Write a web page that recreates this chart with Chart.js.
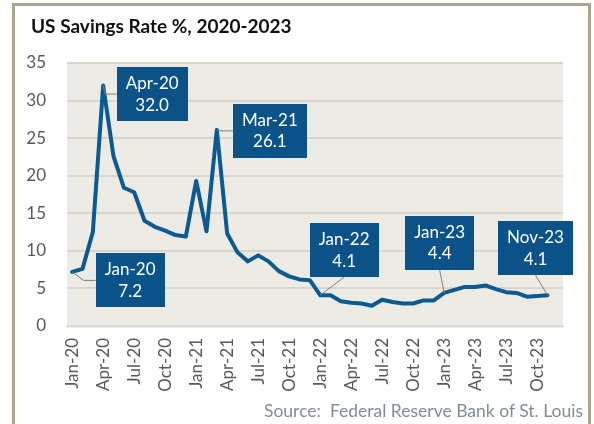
<!DOCTYPE html>
<html>
<head>
<meta charset="utf-8">
<script src="https://cdn.jsdelivr.net/npm/chart.js@4.4.1/dist/chart.umd.min.js"></script>
<style>
  html, body { margin: 0; padding: 0; background: #ffffff; }
  #wrap { position: relative; width: 594px; height: 424px; overflow: hidden; background: #ffffff; }
  #frame { position: absolute; left: 12px; top: 3px; width: 573px; height: 440px; border: 3px solid #ABA58F; box-sizing: content-box; }
  #title { position: absolute; left: 31px; top: 14px; font-family: Lato, "Open Sans", sans-serif; font-weight: bold; font-size: 19px; color: #111111; white-space: nowrap; }
  #source { position: absolute; right: 11px; top: 400px; font-family: Lato, "Open Sans", sans-serif; font-size: 17.5px; color: #7F8C9A; white-space: pre; }
  canvas { position: absolute; left: 0; top: 0; }
</style>
</head>
<body>
<div id="wrap">
  <div id="frame"></div>
  <canvas id="c" width="594" height="424"></canvas>
  <div id="title">US Savings Rate %, 2020-2023</div>
  <div id="source">Source:  Federal Reserve Bank of St. Louis</div>
</div>
<script>
// ---- data ----
const months = [
  "Jan-20","Feb-20","Mar-20","Apr-20","May-20","Jun-20","Jul-20","Aug-20","Sep-20","Oct-20","Nov-20","Dec-20",
  "Jan-21","Feb-21","Mar-21","Apr-21","May-21","Jun-21","Jul-21","Aug-21","Sep-21","Oct-21","Nov-21","Dec-21",
  "Jan-22","Feb-22","Mar-22","Apr-22","May-22","Jun-22","Jul-22","Aug-22","Sep-22","Oct-22","Nov-22","Dec-22",
  "Jan-23","Feb-23","Mar-23","Apr-23","May-23","Jun-23","Jul-23","Aug-23","Sep-23","Oct-23","Nov-23","Dec-23"
];
const savingsRate = [
  7.2, 7.6, 12.5, 32.0, 22.6, 18.4, 17.8, 14.0, 13.2, 12.7, 12.1, 11.9,
  19.3, 12.6, 26.1, 12.3, 9.8, 8.6, 9.4, 8.6, 7.3, 6.6, 6.2, 6.1,
  4.1, 4.1, 3.3, 3.1, 3.0, 2.7, 3.5, 3.2, 3.0, 3.0, 3.4, 3.4,
  4.4, 4.8, 5.2, 5.2, 5.4, 4.9, 4.5, 4.4, 3.9, 4.0, 4.1, null
];
const shownTickMonths = ["Jan-20","Apr-20","Jul-20","Oct-20","Jan-21","Apr-21","Jul-21","Oct-21","Jan-22","Apr-22","Jul-22","Oct-22","Jan-23","Apr-23","Jul-23","Oct-23"];
const yTickMax = 35;
const yTickStep = 5;
const calloutMonths = ["Jan-20","Apr-20","Mar-21","Jan-22","Jan-23","Nov-23"];

// callout placement (pixel offsets of box centre from the point) and leader style
const calloutLayout = {
  "Jan-20": { dx: 58, dy: 8.5, leader: "left" },
  "Apr-20": { dx: 49, dy: 8.5, leader: "left" },
  "Mar-21": { dx: 53, dy: 1, leader: "left" },
  "Jan-22": { dx: 24, dy: -45, leader: "bottom" },
  "Jan-23": { dx: -4.5, dy: -50, leader: "bottom" },
  "Nov-23": { dx: -12, dy: -47, leader: "bottom" }
};

const FONT = 'Lato, "Open Sans", sans-serif';

const plotBg = {
  id: 'plotBg',
  beforeDraw(chart) {
    const { ctx, chartArea: a } = chart;
    ctx.save();
    ctx.fillStyle = '#EDEBE6';
    ctx.fillRect(a.left, a.top - 1, a.right - a.left, a.bottom - a.top + 3);
    ctx.restore();
  }
};

const callouts = {
  id: 'callouts',
  afterDatasetsDraw(chart) {
    const { ctx } = chart;
    const xs = chart.scales.x, ys = chart.scales.y;
    ctx.save();
    ctx.font = '17px ' + FONT;
    calloutMonths.forEach(m => {
      const i = months.indexOf(m);
      const v = savingsRate[i];
      const px = xs.getPixelForValue(i);
      const py = ys.getPixelForValue(v);
      const lay = calloutLayout[m];
      const l1 = m, l2 = v.toFixed(1);
      const tw = Math.max(ctx.measureText(l1).width, ctx.measureText(l2).width);
      const w = Math.round(tw + 18);
      const h = 54;
      const cx = px + lay.dx, cy = py + lay.dy;
      const left = cx - w / 2, top = cy - h / 2;
      // leader
      ctx.strokeStyle = '#7F7F7F';
      ctx.lineWidth = 1;
      ctx.beginPath();
      if (lay.leader === 'left') {
        const ex = Math.max(px + 2, left - 12);
        ctx.moveTo(left, cy);
        ctx.lineTo(ex, cy);
        ctx.lineTo(px, py);
      } else {
        ctx.moveTo(cx, top + h);
        ctx.lineTo(px, py);
      }
      ctx.stroke();
      // box
      ctx.fillStyle = '#0A5288';
      ctx.fillRect(Math.round(left), Math.round(top), w, h);
      ctx.fillStyle = '#FFFFFF';
      ctx.textAlign = 'center';
      ctx.textBaseline = 'middle';
      ctx.fillText(l1, cx, cy - 10.5);
      ctx.fillText(l2, cx, cy + 11);
    });
    ctx.restore();
  }
};

new Chart(document.getElementById('c'), {
  type: 'line',
  data: {
    labels: months,
    datasets: [{
      data: savingsRate,
      borderColor: '#0C5A92',
      borderWidth: 4,
      pointRadius: 0,
      pointHoverRadius: 0,
      tension: 0,
      borderJoinStyle: 'round',
      borderCapStyle: 'round',
      fill: false
    }]
  },
  options: {
    responsive: false,
    devicePixelRatio: 1,
    animation: false,
    events: [],
    layout: { padding: { left: 0, right: 31, top: 63, bottom: 0 } },
    plugins: { legend: { display: false }, tooltip: { enabled: false }, title: { display: false } },
    scales: {
      x: {
        type: 'category',
        offset: true,
        grid: { display: false, drawTicks: false },
        border: { display: true, color: '#DCDCDC', width: 2 },
        ticks: {
          autoSkip: false,
          maxRotation: 90,
          minRotation: 90,
          padding: 12,
          color: '#595959',
          font: { family: FONT, size: 17 },
          callback(value) {
            const lab = this.getLabelForValue(value);
            return shownTickMonths.includes(lab) ? lab : '';
          }
        },
        afterFit(scale) { scale.height = 98; }
      },
      y: {
        min: 0,
        max: yTickMax,
        grid: { color: '#D9D5CB', lineWidth: 2, drawTicks: false },
        border: { display: false },
        ticks: {
          stepSize: yTickStep,
          padding: 21,
          color: '#595959',
          font: { family: FONT, size: 17 }
        },
        afterFit(scale) { scale.width = 67; }
      }
    }
  },
  plugins: [plotBg, callouts]
});
</script>
</body>
</html>
